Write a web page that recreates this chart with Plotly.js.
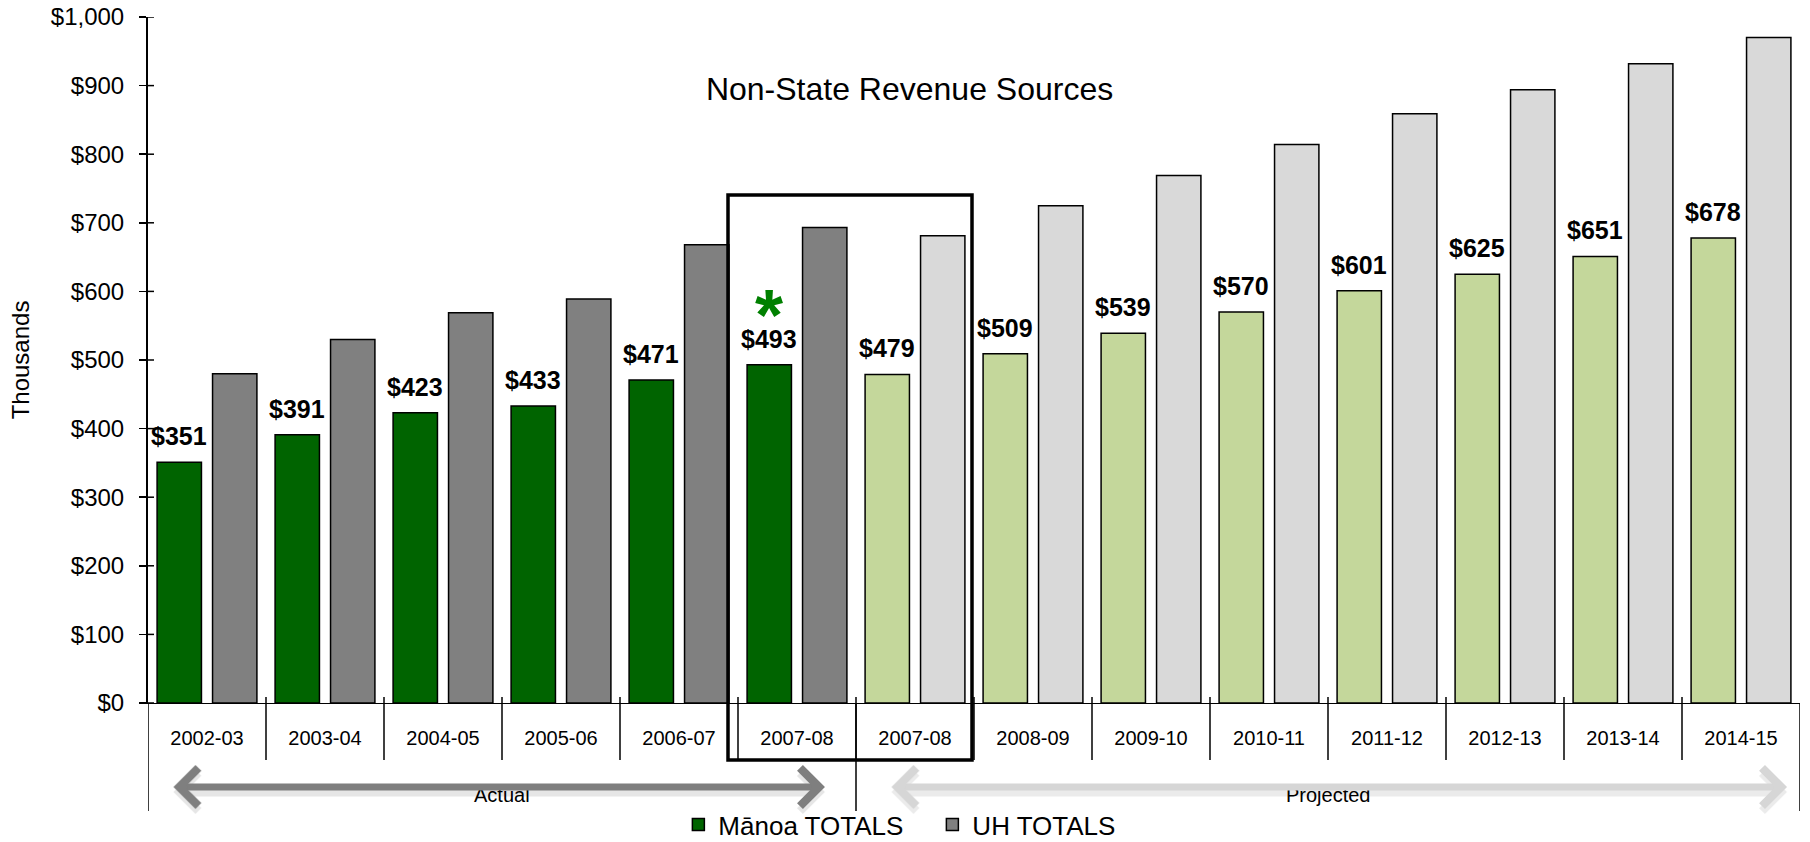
<!DOCTYPE html>
<html><head><meta charset="utf-8">
<script src="https://cdn.plot.ly/plotly-3.0.1.min.js"></script>
<style>html,body{margin:0;padding:0;background:#fff}#chart{width:1810px;height:842px}</style>
</head><body><div id="chart"></div>
<script>
// ---- data ----
const periods = ["2002-03","2003-04","2004-05","2005-06","2006-07","2007-08","2007-08","2008-09","2009-10","2010-11","2011-12","2012-13","2013-14","2014-15"];
const phases  = ["Actual","Actual","Actual","Actual","Actual","Actual","Projected","Projected","Projected","Projected","Projected","Projected","Projected","Projected"];
const manoaTotals = [351,391,423,433,471,493,479,509,539,570,601,625,651,678];
const uhTotals    = [480,530,569,589,668,693,681,725,769,814,859,894,932,970];
const seriesNames = ["M\u0101noa TOTALS","UH TOTALS"];
const phaseNames = ["Actual","Projected"];
const yTicks = [0,100,200,300,400,500,600,700,800,900,1000];
const notedPoint = {phase:"Actual", period:"2007-08"};   // green asterisk
const chartTitle = "Non-State Revenue Sources";
const yTitle = "Thousands";

// ---- styles ----
const FONT = "Liberation Sans, Arial, sans-serif";
const palette = {
  Actual:    {manoa:"#006400", uh:"#808080", arrow:"#7F7F7F"},
  Projected: {manoa:"#C4D79B", uh:"#D9D9D9", arrow:"#D6D6D6"}
};
const BARGAP = 0.06, BARGROUPGAP = 0.2;
const manoaOffset = -(1 - BARGAP) / 4;
const PLOT_H = 686, PLOT_W = 1652;

const xIdx = periods.map((_, i) => i);

const traces = [
  {type:"bar", name:seriesNames[0], x:xIdx, y:manoaTotals,
   marker:{color:phases.map(p => palette[p].manoa), line:{color:"#000", width:1.5}},
   hoverinfo:"y"},
  {type:"bar", name:seriesNames[1], x:xIdx, y:uhTotals,
   marker:{color:phases.map(p => palette[p].uh), line:{color:"#000", width:1.5}},
   hoverinfo:"y"}
];

const annotations = manoaTotals.map((v, i) => ({
  xref:"x", yref:"y", x:i + manoaOffset, y:v, yanchor:"bottom", xanchor:"center",
  yshift:10, showarrow:false, text:"$" + v,
  font:{family:FONT, size:25, color:"#000", weight:"bold"}
}));
const ni = periods.findIndex((p, i) => p === notedPoint.period && phases[i] === notedPoint.phase);
annotations.push({xref:"x", yref:"y", x:ni + manoaOffset, y:manoaTotals[ni], yanchor:"middle",
  yshift:50, showarrow:false, text:"*", font:{family:FONT, size:72, color:"#008000", weight:"bold"}});

// group labels (Actual / Projected) centred on their groups
phaseNames.forEach(ph => {
  const idx = xIdx.filter(i => phases[i] === ph);
  const mid = (idx[0] + idx[idx.length - 1]) / 2;
  annotations.push({xref:"x", yref:"paper", x:mid, y:-92/PLOT_H, yanchor:"middle", xanchor:"center",
    showarrow:false, text:ph, font:{family:FONT, size:20, color:"#000"}});
});

// Actual / Projected arrows (drawn over the group labels), each with a soft shadow
function arrow(x0, x1, color, dy, w){
  return {xref:"x", yref:"paper", x:x1, y:(-84 - dy)/PLOT_H, axref:"x", ax:x0, ayref:"pixel", ay:0,
    text:"", showarrow:true, arrowside:"end+start", arrowhead:4, startarrowhead:4,
    arrowsize:1.05 * 7 / w, startarrowsize:1.05 * 7 / w, arrowwidth:w, arrowcolor:color, standoff:0, startstandoff:0};
}
annotations.push(arrow(-0.297, 5.237, "rgba(0,0,0,0.10)", 5, 9));
annotations.push(arrow(5.788, 13.39, "rgba(0,0,0,0.08)", 5, 9));
annotations.push(arrow(-0.297, 5.237, palette.Actual.arrow, 0, 7));
annotations.push(arrow(5.788, 13.39, palette.Projected.arrow, 0, 7));

// separators below the category axis
const shapes = [];
xIdx.slice(1).forEach(i => shapes.push({type:"line", xref:"x", yref:"paper", x0:i - 0.5, x1:i - 0.5,
  y0:6/PLOT_H, y1:-57/PLOT_H, line:{color:"#000", width:1.5}}));
const groupBounds = [-0.5];
xIdx.forEach(i => { if (i > 0 && phases[i] !== phases[i - 1]) groupBounds.push(i - 0.5); });
groupBounds.push(periods.length - 0.5);
groupBounds.forEach(b => shapes.push({type:"line", xref:"x", yref:"paper", x0:b, x1:b,
  y0:0, y1:-108/PLOT_H, line:{color:"#000", width:1.5}}));
// inner half of the crossing y ticks
yTicks.forEach(t => shapes.push({type:"line", xref:"paper", yref:"y", x0:0, x1:6/PLOT_W, y0:t, y1:t,
  line:{color:"#000", width:1.5}}));
// highlight box around the two 2007-08 groups
shapes.push({type:"rect", xref:"paper", yref:"paper", x0:(728-148)/PLOT_W, x1:(972-148)/PLOT_W,
  y0:-57/PLOT_H, y1:(703-195)/PLOT_H, line:{color:"#000", width:3.5}, layer:"above"});

const xr = [-0.5, periods.length - 0.5];
const layout = {
  width:1810, height:842,
  margin:{l:148, r:10, t:17, b:139, autoexpand:false},
  paper_bgcolor:"#fff", plot_bgcolor:"#fff",
  font:{family:FONT, color:"#000"},
  title:{text:chartTitle, font:{family:FONT, size:32, color:"#000"},
         xref:"paper", x:0.461, xanchor:"center", yref:"container", y:1 - 89/842, yanchor:"middle"},
  barmode:"group", bargap:BARGAP, bargroupgap:BARGROUPGAP,
  showlegend:true,
  legend:{orientation:"h", x:0.4748, xanchor:"center", y:-145/PLOT_H, yanchor:"bottom",
          font:{family:FONT, size:26, color:"#000"}, itemwidth:30, bgcolor:"rgba(0,0,0,0)",
          entrywidth:209, entrywidthmode:"pixels"},
  xaxis:{type:"linear", range:xr, tickmode:"array", tickvals:xIdx, ticktext:periods,
         showline:true, linecolor:"#000", linewidth:1, ticks:"", showgrid:false, zeroline:false,
         tickfont:{family:FONT, size:20, color:"#000"}, ticklabelstandoff:17, automargin:false},
  yaxis:{range:[yTicks[0], yTicks[yTicks.length - 1]], tick0:yTicks[0], dtick:yTicks[1] - yTicks[0],
         tickprefix:"$", tickformat:",d", showline:true,
         linecolor:"#000", linewidth:2, ticks:"outside", ticklen:7, tickwidth:1.5, tickcolor:"#000",
         ticklabelstandoff:10,
         showgrid:false, zeroline:false, tickfont:{family:FONT, size:24, color:"#000"},
         title:{text:yTitle, font:{family:FONT, size:24, color:"#000"}, standoff:14}, automargin:true},
  shapes:shapes,
  annotations:annotations
};

Plotly.newPlot("chart", traces, layout, {displayModeBar:false, staticPlot:true});
</script></body></html>
